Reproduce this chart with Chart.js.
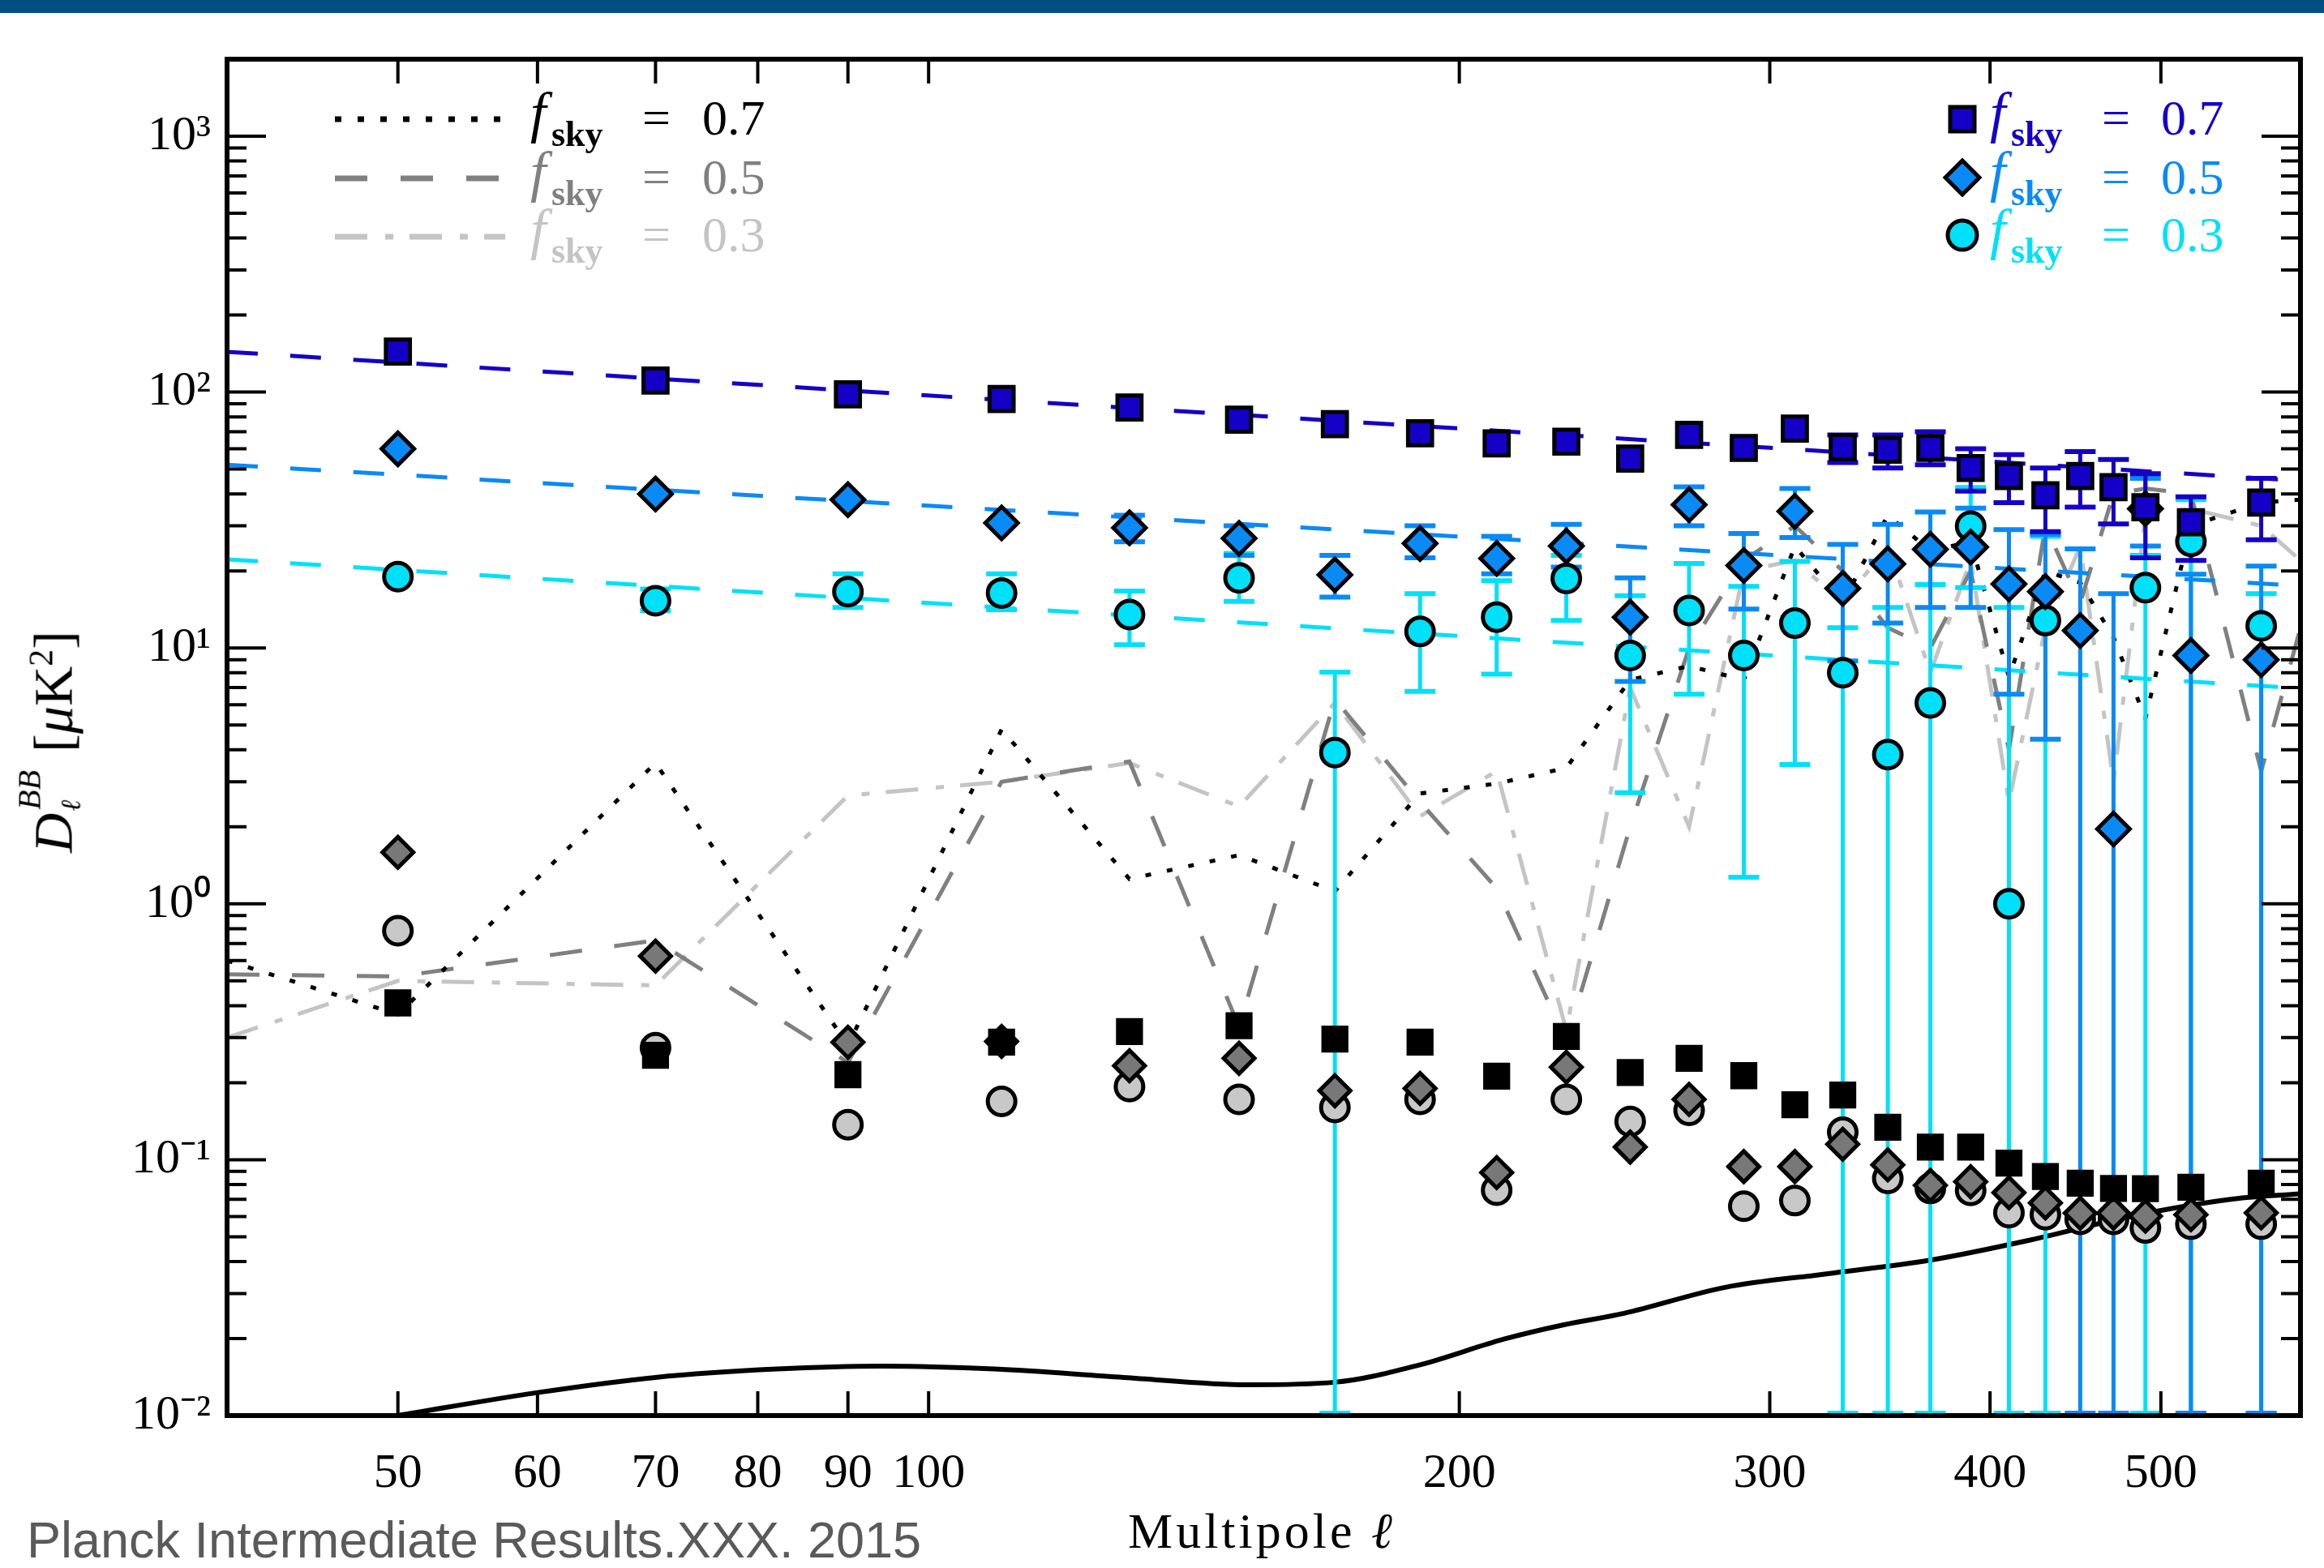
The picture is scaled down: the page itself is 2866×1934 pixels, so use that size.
<!DOCTYPE html>
<html lang="en">
<head>
    <meta charset="UTF-8">
    <title>BB power spectra - Planck</title>
    <script src="https://cdn.jsdelivr.net/npm/chart.js"></script>
    <style>
        body {
            margin: 0;
            padding: 0;
            width: 2866px;
            height: 1934px;
            overflow: hidden;
            position: relative;
            background: #fff;
            font-family: "Liberation Serif", serif;
        }
        #chart { position: absolute; left: 0; top: 0; }
        .band { position: absolute; left: 0; top: 0; width: 2866px; height: 16px; background: #004f80; }
        .t { position: absolute; line-height: 1; white-space: nowrap; }
        .num { font-size: 62px; }
        .f { font-size: 70px; font-style: italic; }
        .sky { font-size: 44px; font-weight: bold; }
        .mark { position: absolute; }
        .credit { position: absolute; left: 33px; top: 1868px; font-family: "Liberation Sans", Arial, sans-serif; font-size: 63px; line-height: 1; color: #5a5a5a; }
        .xtitle { position: absolute; left: 1391px; top: 1857px; font-size: 62px; line-height: 1; letter-spacing: 4px; }
        .ytitle { position: absolute; left: 60px; top: 915px; font-size: 68px; line-height: 1; white-space: nowrap;
                  transform: translate(-50%, -50%) rotate(-90deg); }
    </style>
</head>
<body>
    <canvas id="chart" width="2866" height="1934"></canvas>
    <div class="band"></div>

    <!-- left legend: foreground-cleaned lines -->
    <svg class="mark" style="left:413px; top:142px" width="210" height="10"><line x1="0" y1="5" x2="210" y2="5" stroke="#000" stroke-width="7" stroke-dasharray="8 20"/></svg>
    <svg class="mark" style="left:413px; top:215px" width="210" height="10"><line x1="0" y1="5" x2="210" y2="5" stroke="#808080" stroke-width="7" stroke-dasharray="40 41"/></svg>
    <svg class="mark" style="left:413px; top:287px" width="210" height="10"><line x1="0" y1="5" x2="210" y2="5" stroke="#c4c4c4" stroke-width="7" stroke-dasharray="40 22 10 20"/></svg>
    <span class="t f" style="left:654px; top:104px; color:#000">f</span>
    <span class="t sky" style="left:680px; top:144px; color:#000">sky</span>
    <span class="t num" style="left:792px; top:114px; color:#000">=</span>
    <span class="t num" style="left:866px; top:114px; color:#000">0.7</span>
    <span class="t f" style="left:654px; top:177px; color:#808080">f</span>
    <span class="t sky" style="left:680px; top:217px; color:#808080">sky</span>
    <span class="t num" style="left:792px; top:187px; color:#808080">=</span>
    <span class="t num" style="left:866px; top:187px; color:#808080">0.5</span>
    <span class="t f" style="left:654px; top:248px; color:#c4c4c4">f</span>
    <span class="t sky" style="left:680px; top:288px; color:#c4c4c4">sky</span>
    <span class="t num" style="left:792px; top:258px; color:#c4c4c4">=</span>
    <span class="t num" style="left:866px; top:258px; color:#c4c4c4">0.3</span>

    <!-- right legend: points -->
    <svg class="mark" style="left:2398px; top:125px" width="44" height="44"><rect x="7" y="7" width="30" height="30" fill="#1500c8" stroke="#000" stroke-width="5"/></svg>
    <svg class="mark" style="left:2396px; top:195px" width="48" height="48"><polygon points="24,3 45,24 24,45 3,24" fill="#0a8af5" stroke="#000" stroke-width="5"/></svg>
    <svg class="mark" style="left:2397px; top:267px" width="46" height="46"><circle cx="23" cy="23" r="18" fill="#00e0f8" stroke="#000" stroke-width="5"/></svg>
    <span class="t f" style="left:2454px; top:104px; color:#1500c8">f</span>
    <span class="t sky" style="left:2480px; top:144px; color:#1500c8">sky</span>
    <span class="t num" style="left:2592px; top:114px; color:#1500c8">=</span>
    <span class="t num" style="left:2665px; top:114px; color:#1500c8">0.7</span>
    <span class="t f" style="left:2454px; top:177px; color:#0a8af5">f</span>
    <span class="t sky" style="left:2480px; top:217px; color:#0a8af5">sky</span>
    <span class="t num" style="left:2592px; top:187px; color:#0a8af5">=</span>
    <span class="t num" style="left:2665px; top:187px; color:#0a8af5">0.5</span>
    <span class="t f" style="left:2454px; top:248px; color:#00e0f8">f</span>
    <span class="t sky" style="left:2480px; top:288px; color:#00e0f8">sky</span>
    <span class="t num" style="left:2592px; top:258px; color:#00e0f8">=</span>
    <span class="t num" style="left:2665px; top:258px; color:#00e0f8">0.3</span>

    <div class="xtitle">Multipole <i>ℓ</i></div>
    <div class="ytitle"><i>D</i><span style="position:relative; display:inline-block; width:58px; height:68px;"><span style="position:absolute; left:4px; top:-4px; font-size:40px; font-style:italic;">BB</span><span style="position:absolute; left:2px; top:50px; font-size:34px; font-style:italic;">ℓ</span></span> [<i>μ</i>K<sup style="font-size:42px">2</sup>]</div>
    <div class="credit">Planck Intermediate Results.XXX. 2015</div>

    <script>
        // multipole bin centres of the data points
        const ell = [50, 70, 90, 110, 130, 150, 170, 190, 210, 230, 250, 270, 290, 310, 330, 350, 370, 390, 410, 430, 450, 470, 490, 520, 570];

        // total BB (coloured points), fsky = 0.7 / 0.5 / 0.3
        const sq07 = [144, 111, 98, 94, 87, 78, 75, 69, 63, 64, 55, 68, 60.5, 72, 61, 59.5, 60.5, 50.5, 47, 39.5, 47, 42.5, 35.5, 31, 37];
        const sq07Lo = [null, null, null, null, null, null, null, null, null, null, null, null, null, null, 53, 50.5, 52, 41, 37, 28.5, 35.5, 30.5, 22.5, 22, 26.5];
        const sq07Hi = [null, null, null, null, null, null, null, null, null, null, null, null, null, null, 68, 68, 70, 60, 57, 50.5, 58.5, 54.5, 48, 39, 46];

        const dm05 = [60, 40, 38, 30.8, 29.5, 26.8, 19.3, 25.6, 22.4, 25, 13.2, 36.3, 21, 34.2, 17.1, 21.3, 24.3, 24.8, 17.8, 16.6, 11.7, 1.96, 35, 9.35, 9.0];
        const dm05Lo = [null, null, null, null, 26, 23, 15.8, 22.5, 19.5, 20.7, 7.4, 30, 14.2, 27, 8.9, 12.5, 14.4, 14.4, 6.6, 4.4, 0, 0, 25, 0, 0];
        const dm05Hi = [null, null, null, null, 33, 30, 23, 30, 27.3, 30.4, 18.8, 42.6, 28, 42, 25.4, 30.4, 34, 35.2, 29, 27.8, 24.4, 16.3, 46, 19.4, 20.9];

        const ci03 = [19, 15.3, 16.6, 16.4, 13.5, 18.8, 3.9, 11.6, 13.2, 18.7, 9.35, 14, 9.35, 12.5, 8, 3.83, 6.1, 29.9, 1.0, 12.8, null, null, 17.2, 26.1, 12.2];
        const ci03Lo = [null, 14, 14.4, 14.1, 10.3, 15.2, 0, 6.76, 7.9, 12.8, 2.72, 6.6, 1.27, 3.5, 0, 0, 0, 17.2, 0, 0, null, null, 0, 0, 0];
        const ci03Hi = [null, 17, 19.5, 19.5, 16.7, 23.4, 8.05, 16.3, 18.3, 23, 16, 21.4, 17.4, 21.8, 12, 14.4, 17.7, 42.4, 14.4, 27.3, null, null, 23, 38, 16.3];

        // grey points (black / dark grey / light grey)
        const sqG07 = [0.41, 0.256, 0.215, 0.288, 0.317, 0.334, 0.296, 0.288, 0.212, 0.303, 0.219, 0.249, 0.213, 0.164, 0.179, 0.134, 0.112, 0.112, 0.097, 0.086, 0.081, 0.0772, 0.077, 0.078, 0.081];
        const dmG05 = [1.59, 0.625, 0.288, 0.29, 0.233, 0.249, 0.186, 0.19, 0.0891, 0.23, 0.112, 0.172, 0.094, 0.094, 0.115, 0.0955, 0.0794, 0.082, 0.0743, 0.0678, 0.0618, 0.0618, 0.0602, 0.061, 0.062];
        const ciG03 = [0.785, 0.274, 0.137, 0.169, 0.193, 0.172, 0.160, 0.172, 0.076, 0.172, 0.141, 0.156, 0.0658, 0.0692, 0.128, 0.0845, 0.0772, 0.0759, 0.0621, 0.061, 0.0585, 0.0585, 0.0541, 0.056, 0.056];

        // grey lines
        const lineEll = [40, 50, 70, 90, 110, 130, 150, 170, 190, 210, 230, 250, 270, 290, 310, 330, 350, 370, 390, 410, 430, 450, 470, 490, 520, 570, 600];
        const dot07 = [0.6, 0.37, 3.55, 0.28, 4.8, 1.25, 1.55, 1.12, 2.7, 2.95, 3.4, 7.5, 8.5, 7.5, 25, 15, 33, 24, 26, 7.7, 20, 18, 11, 5.3, 30, 37, 38];
        const dash05 = [0.53, 0.52, 0.72, 0.24, 3.0, 3.6, 0.33, 6.3, 2.5, 1.15, 0.29, 2.0, 10, 22, 30, 20, 12, 10, 20, 4, 30, 15, 40, 42, 40, 3.3, 12];
        const dashdot03 = [0.30, 0.50, 0.48, 2.65, 3.0, 3.55, 2.4, 6.1, 2.2, 3.3, 0.32, 7, 2.0, 20, 22, 15, 25, 8, 22, 2.5, 12, 25, 3, 33, 35, 30, 22];

        // power-law fits (straight in log-log), end points at the plot edges
        const fitEll = [40, 600];
        const fit07 = [143.6, 45];
        const fit05 = [52, 17.5];
        const fit03 = [22.2, 6.95];

        // model curve
        const modelEll = [50, 60, 70, 82, 94, 109, 129, 152, 170, 190, 212, 229, 248, 283, 323, 370, 422, 482, 550, 600];
        const modelVal = [0.0100, 0.0123, 0.0141, 0.0152, 0.0156, 0.0152, 0.0141, 0.0132, 0.0135, 0.0158, 0.0199, 0.0226, 0.0251, 0.0317, 0.0358, 0.0405, 0.0486, 0.0603, 0.0703, 0.0736];

        // axes
        const xTickVals = [50, 60, 70, 80, 90, 100, 200, 300, 400, 500];
        const yTickVals = [0.01, 0.1, 1, 10, 100, 1000];
        const yTickLabels = ['10⁻²', '10⁻¹', '10⁰', '10¹', '10²', '10³'];

        const C07 = '#1500c8', C05 = '#0a8af5', C03 = '#00e0f8';

        function pts(xs, ys) {
            return xs.map((v, i) => ({ x: v, y: ys[i] }));
        }

        function lineSet(xs, ys, color, dash, order, width) {
            return {
                data: pts(xs, ys), showLine: true, pointRadius: 0, borderColor: color,
                borderWidth: width || 5, borderDash: dash, fill: false, order: order
            };
        }

        function pointSet(ys, style, radius, fill, order, extra) {
            return Object.assign({
                data: pts(ell, ys), showLine: false, pointStyle: style, pointRadius: radius,
                backgroundColor: fill, borderColor: '#000', borderWidth: 5, order: order
            }, extra || {});
        }

        // error bars, drawn once just before the first point set
        const errorBars = {
            id: 'errorBars',
            beforeDatasetDraw(chart, args) {
                if (!chart.data.datasets[args.index].barsHere) return;
                const { ctx, chartArea: a, scales: { x, y } } = chart;
                ctx.save();
                ctx.beginPath();
                ctx.rect(a.left, a.top, a.right - a.left, a.bottom - a.top);
                ctx.clip();
                ctx.lineCap = 'butt';
                [...chart.data.datasets].reverse().forEach(ds => {
                    if (!ds.errHi) return;
                    ctx.strokeStyle = ds.errColor;
                    ds.data.forEach((p, i) => {
                        const hi = ds.errHi[i], lo = ds.errLo[i];
                        if (hi == null) return;
                        const px = x.getPixelForValue(p.x);
                        const top = y.getPixelForValue(hi);
                        const bot = lo > 0 ? y.getPixelForValue(lo) : a.bottom - 3;
                        ctx.lineWidth = 5;
                        ctx.beginPath();
                        ctx.moveTo(px, top); ctx.lineTo(px, bot);
                        ctx.stroke();
                        ctx.lineWidth = 6;
                        ctx.beginPath();
                        ctx.moveTo(px - 19, top); ctx.lineTo(px + 19, top);
                        ctx.moveTo(px - 19, bot); ctx.lineTo(px + 19, bot);
                        ctx.stroke();
                    });
                });
                ctx.restore();
            }
        };

        // frame with inward ticks on all four sides
        const frameTicks = {
            id: 'frameTicks',
            afterDraw(chart) {
                const { ctx, chartArea: a, scales: { x, y } } = chart;
                ctx.save();
                ctx.strokeStyle = '#000';
                ctx.lineWidth = 4;
                ctx.beginPath();
                xTickVals.forEach(v => {
                    const px = x.getPixelForValue(v);
                    ctx.moveTo(px, a.bottom); ctx.lineTo(px, a.bottom - 30);
                    ctx.moveTo(px, a.top); ctx.lineTo(px, a.top + 30);
                });
                for (let e = -2; e <= 3; e++) {
                    for (let m = 1; m <= 9; m++) {
                        const v = m * Math.pow(10, e);
                        if (v > y.max) break;
                        const py = y.getPixelForValue(v);
                        const len = m === 1 ? 48 : 24;
                        ctx.moveTo(a.left, py); ctx.lineTo(a.left + len, py);
                        ctx.moveTo(a.right, py); ctx.lineTo(a.right - len, py);
                    }
                }
                ctx.stroke();
                ctx.lineWidth = 6;
                ctx.strokeRect(a.left, a.top, a.right - a.left, a.bottom - a.top);
                ctx.restore();
            }
        };

        const datasets = [
            pointSet(sq07, 'rect', 21, C07, 1, { errLo: sq07Lo, errHi: sq07Hi, errColor: C07 }),
            pointSet(dm05, 'rectRot', 20, C05, 2, { errLo: dm05Lo, errHi: dm05Hi, errColor: C05 }),
            pointSet(ci03, 'circle', 17, C03, 3, { errLo: ci03Lo, errHi: ci03Hi, errColor: C03 }),
            pointSet(sqG07, 'rect', 20, '#000000', 4),
            pointSet(dmG05, 'rectRot', 19, '#787878', 5),
            pointSet(ciG03, 'circle', 17, '#c8c8c8', 6, { barsHere: true }),
            lineSet(fitEll, fit07, C07, [38, 40], 7),
            lineSet(fitEll, fit05, C05, [38, 40], 8),
            lineSet(fitEll, fit03, C03, [38, 40], 9),
            lineSet(lineEll, dot07, '#000000', [7, 20], 10),
            lineSet(lineEll, dash05, '#808080', [40, 40], 11),
            lineSet(lineEll, dashdot03, '#c4c4c4', [40, 22, 10, 20], 12),
            Object.assign(lineSet(modelEll, modelVal, '#000000', [], 13, 6), { cubicInterpolationMode: 'monotone' })
        ];

        new Chart(document.getElementById('chart'), {
            type: 'scatter',
            data: { datasets: datasets },
            options: {
                responsive: false,
                animation: false,
                devicePixelRatio: 1,
                events: [],
                layout: { padding: { left: 0, top: 73, right: 29, bottom: 0 } },
                plugins: { legend: { display: false }, tooltip: { enabled: false } },
                scales: {
                    x: {
                        type: 'logarithmic',
                        min: 40,
                        max: 600,
                        afterFit: s => { s.height = 188; },
                        afterBuildTicks: s => { s.ticks = xTickVals.map(v => ({ value: v })); },
                        grid: { display: false, drawTicks: false },
                        border: { display: false },
                        ticks: {
                            autoSkip: false, maxRotation: 0, padding: 36, color: '#000',
                            font: { family: 'Liberation Serif', size: 60 },
                            callback: v => String(v)
                        }
                    },
                    y: {
                        type: 'logarithmic',
                        min: 0.01,
                        max: 2000,
                        afterFit: s => { s.width = 280; },
                        afterBuildTicks: s => { s.ticks = yTickVals.map(v => ({ value: v })); },
                        grid: { display: false, drawTicks: false },
                        border: { display: false },
                        ticks: {
                            autoSkip: false, padding: 20, color: '#000',
                            font: { family: 'Liberation Serif', size: 60 },
                            callback: v => yTickLabels[yTickVals.indexOf(v)] || ''
                        }
                    }
                }
            },
            plugins: [errorBars, frameTicks]
        });
    </script>
</body>
</html>
